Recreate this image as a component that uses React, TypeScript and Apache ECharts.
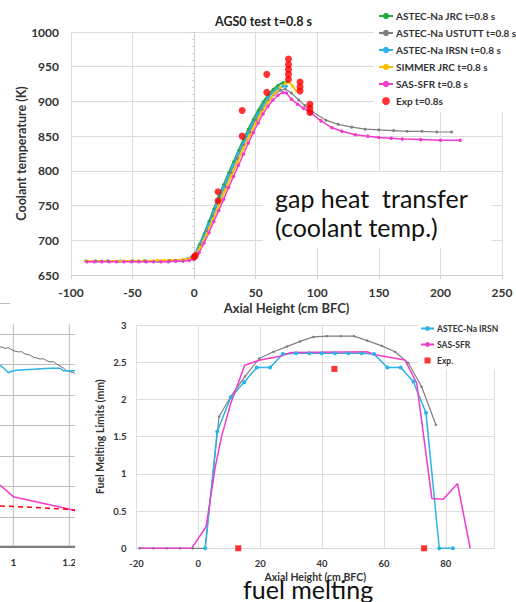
import React, { useEffect, useRef } from 'react';
import * as echarts from 'echarts';

// ---------- Top chart: AGS0 test t=0.8 s (coolant temperature vs axial height) ----------
const topTitle = 'AGS0 test t=0.8 s';
const topXName = 'Axial Height (cm BFC)';
const topYName = 'Coolant temperature (K)';

const jrcName = 'ASTEC-Na JRC t=0.8 s';
const jrcData: [number, number][] = [
  [-88, 670], [-80, 670], [-70, 670], [-60, 670], [-50, 670], [-40, 670], [-30, 670], [-20, 670], [-10, 671],
  [0, 677], [4, 693], [8, 709], [12, 727], [16, 745], [20, 763], [24, 780], [28, 797], [32, 813], [36, 829],
  [40, 845], [44, 860], [48, 874], [52, 887], [56, 899], [60, 909], [64, 917], [68, 923], [72, 927], [75, 928],
];

const ustuttName = 'ASTEC-Na USTUTT t=0.8 s';
const ustuttData: [number, number][] = [
  [-88, 670], [-80, 670], [-70, 670], [-60, 670], [-50, 670], [-40, 670], [-30, 670], [-20, 670], [-10, 671],
  [0, 676], [5, 694], [10, 714], [15, 735], [20, 756], [25, 777], [30, 798], [35, 818], [40, 838], [45, 856],
  [50, 873], [55, 888], [60, 901], [65, 910], [70, 916], [74, 918], [79, 912], [85, 902], [90, 894], [96, 885],
  [107, 873], [117, 867], [128, 863], [139, 860], [150, 859], [162, 858], [173, 857], [185, 857], [197, 856], [209, 856],
];

const irsnName = 'ASTEC-Na IRSN t=0.8 s';
const irsnData: [number, number][] = [
  [-88, 670], [-75, 670], [-60, 670], [-45, 670], [-30, 670], [-15, 670],
  [0, 676], [4, 691], [8, 707], [12, 724], [16, 742], [20, 760], [24, 777], [28, 794], [32, 810], [36, 826],
  [40, 841], [44, 856], [48, 870], [52, 883], [56, 895], [60, 905], [64, 913], [68, 919], [72, 922], [75, 922],
];

const simmerName = 'SIMMER JRC t=0.8 s';
const simmerData: [number, number][] = [
  [-88, 670], [-60, 670], [-30, 671], [-10, 672],
  [0, 675], [5, 690], [10, 708], [15, 729], [20, 750], [25, 771], [30, 792], [35, 812], [40, 832], [45, 851],
  [50, 869], [55, 885], [60, 899], [65, 911], [70, 920], [74, 926], [77, 928], [80, 922], [83, 915],
];

const sasName = 'SAS-SFR t=0.8 s';
const sasData: [number, number][] = [
  [-87, 669], [-81, 669], [-75, 669], [-69, 669], [-63, 669], [-57, 669], [-51, 669], [-45, 669], [-39, 669],
  [-33, 669], [-27, 669], [-21, 669], [-15, 670], [-9, 670], [-4, 671],
  [0, 673], [4, 682], [8, 696], [12, 711], [16, 727], [20, 743], [24, 759], [28, 776], [32, 792], [36, 808],
  [40, 824], [44, 840], [48, 855], [52, 869], [56, 882], [60, 893], [64, 902], [68, 909], [72, 913], [75, 912],
  [79, 903], [84, 896], [89, 890], [95, 883], [103, 872], [112, 862], [120, 857], [131, 852], [141, 850],
  [150, 848], [160, 847], [169, 846], [184, 845], [200, 844], [216, 844],
];

const expName = 'Exp t=0.8s';
const expData: [number, number][] = [
  [0, 676], [1, 678], [19.4, 770], [19.4, 757], [39, 887], [39, 850], [59, 939], [59, 913],
  [76.6, 961], [76.6, 953], [76.6, 946], [76.6, 939], [76.6, 932],
  [86, 928], [86, 921], [86, 915], [94, 896], [94, 890], [94, 884],
];

const annotationLines = ['gap heat  transfer', '(coolant temp.)'];

// ---------- Bottom-right chart: fuel melting limits ----------
const fmXName = 'Axial Height (cm BFC)';
const fmYName = 'Fuel Melting Limits (mm)';

const fmIrsnName = 'ASTEC-Na IRSN';
const fmIrsnData: [number, number][] = [
  [2.2, 0], [6.1, 1.57], [10.5, 2.03], [14.8, 2.23], [18.9, 2.43], [23.2, 2.43], [27.3, 2.61], [31.6, 2.62],
  [35.9, 2.62], [39.9, 2.62], [44.2, 2.62], [48.5, 2.62], [52.8, 2.62], [56.8, 2.61], [61.1, 2.43], [65.4, 2.43],
  [69.5, 2.24], [73.6, 1.82], [77.9, 0], [82.3, 0],
];

const fmSasName = 'SAS-SFR';
const fmSasData: [number, number][] = [
  [-19.5, 0], [-2.2, 0], [2.5, 0.29], [5.5, 1.1], [7.5, 1.5], [10.5, 1.95], [15, 2.46], [20, 2.53], [26.4, 2.58],
  [30, 2.63], [54.5, 2.64], [57.1, 2.6], [66.8, 2.53], [70.6, 2.22], [75.5, 0.67], [79.2, 0.66], [83.8, 0.87], [87.9, 0],
];

const fmUstuttName = 'ASTEC-Na USTUTT';
const fmUstuttData: [number, number][] = [
  [-18.9, 0], [-14.5, 0], [-10.2, 0], [-5.9, 0], [-1.8, 0], [2.2, 0], [6.7, 1.77], [10.5, 2.04], [15.1, 2.31],
  [19.7, 2.55], [24.3, 2.64], [28.6, 2.71], [32.9, 2.78], [37.2, 2.84], [41.5, 2.85], [46, 2.85], [50.3, 2.85],
  [54.6, 2.79], [59.3, 2.72], [63.6, 2.64], [67.9, 2.49], [72.2, 2.17], [76.8, 1.66],
];

const fmExpName = 'Exp.';
const fmExpData: [number, number][] = [[12.9, 0], [44, 2.41], [73, 0]];

const fmCaption = 'fuel melting';

// ---------- Bottom-left chart (cropped by the page edge) ----------
const blXMin = 0.9525;
const blXMax = 1.2204;
const blXTicks = [1, 1.2];
const blYGrid = [0.5, 1, 1.5, 2, 2.5, 3, 3.5, 4];
const blGrayData: [number, number][] = [
  [0.9525, 3.284], [0.9704, 3.257], [0.9821, 3.267], [1.0, 3.218], [1.0179, 3.197], [1.03, 3.202], [1.0418, 3.164],
  [1.0596, 3.148], [1.0714, 3.11], [1.0836, 3.098], [1.0954, 3.082], [1.1071, 3.087], [1.1193, 3.054], [1.1311, 3.033],
  [1.1429, 3.038], [1.155, 3.0], [1.1668, 2.967], [1.1786, 2.934], [1.1907, 2.89], [1.205, 2.869], [1.2204, 2.847],
];
const blBlueData: [number, number][] = [
  [0.9525, 2.984], [0.9704, 2.913], [0.9821, 2.857], [1.0, 2.89], [1.024, 2.902], [1.0714, 2.913], [1.1311, 2.93],
  [1.1668, 2.93], [1.1786, 2.89], [1.2204, 2.89],
];
const blMagentaData: [number, number][] = [[0.9525, 1.016], [1.0, 0.825], [1.2025, 0.618], [1.2204, 0.595]];
const blRedDashData: [number, number][] = [[0.9525, 0.672], [1.0714, 0.65], [1.1907, 0.618], [1.2204, 0.607]];

const FONT = 'Lato, "Liberation Sans", sans-serif';
const C_GREEN = '#27a845';
const C_GRAY = '#7f7f7f';
const C_BLUE = '#2bb3e8';
const C_ORANGE = '#ffbf00';
const C_MAGENTA = '#f03ccc';
const C_RED = '#ff0000';
const LABEL = '#333333';

function line(name: string, data: [number, number][], color: string, width: number, sym: number, axis: number, z: number, extra: any = {}) {
  return {
    type: 'line', name, data, xAxisIndex: axis, yAxisIndex: axis, z,
    symbol: 'circle', symbolSize: sym, showSymbol: sym > 0,
    lineStyle: { color, width }, itemStyle: { color },
    emphasis: { disabled: true }, ...extra,
  };
}

const baseGraphic: any[] = [
  { type: 'rect', z: 2, shape: { x: 75, y: 318, width: 441, height: 284 }, style: { fill: '#ffffff' } },
  { type: 'rect', z: 2, shape: { x: 10, y: 300, width: 65, height: 24 }, style: { fill: '#ffffff' } },
  { type: 'rect', z: 10, shape: { x: 263, y: 172, width: 229, height: 76 }, style: { fill: '#ffffff' } },
  {
    type: 'text', z: 11, x: 275, y: 198,
    style: { text: annotationLines[0], font: `25px ${FONT}`, fill: '#111', verticalAlign: 'middle', align: 'left' },
  },
  {
    type: 'text', z: 11, x: 275, y: 227,
    style: { text: annotationLines[1], font: `25px ${FONT}`, fill: '#111', verticalAlign: 'middle', align: 'left' },
  },
  {
    type: 'text', z: 11, x: 243, y: 589,
    style: { text: fmCaption, font: `25px ${FONT}`, fill: '#111', verticalAlign: 'middle', align: 'left' },
  },
];

function buildOption() {
  const labelStyle = (size: number, margin: number) => ({
    color: LABEL, fontFamily: FONT, fontWeight: 'bold', fontSize: size, margin,
  });
  return {
    animation: false,
    backgroundColor: '#ffffff',
    title: {
      text: topTitle, left: 215, top: 15, padding: 0,
      textStyle: { fontFamily: FONT, fontWeight: 'bold', fontSize: 12.5, color: '#222' },
    },
    legend: [
      {
        orient: 'vertical', left: 374, top: 3, padding: [8, 6, 6, 4],
        itemWidth: 14, itemHeight: 8, itemGap: 7, backgroundColor: '#ffffff', z: 6,
        selectedMode: false,
        data: [jrcName, ustuttName, irsnName, simmerName, sasName, expName],
        textStyle: { fontFamily: FONT, fontWeight: 'bold', fontSize: 10, color: LABEL, padding: [0, 0, 0, -2] },
      },
      {
        orient: 'vertical', left: 418, top: 321, padding: [3, 4, 4, 2],
        itemWidth: 13, itemHeight: 6, itemGap: 7, backgroundColor: '#ffffff', z: 6,
        selectedMode: false,
        data: [fmIrsnName, fmSasName, { name: fmExpName, icon: 'path://M0,0h10v10h-10z' }],
        textStyle: { fontFamily: FONT, fontWeight: 'bold', fontSize: 8.5, color: LABEL, padding: [0, 0, 0, -2] },
      },
    ],
    grid: [
      { left: 71, right: 14, top: 32, bottom: 327, outerBoundsMode: 'none', containLabel: false },
      { left: 0, right: 441, top: 303, bottom: 55, outerBoundsMode: 'none', containLabel: false },
      { left: 136.5, right: 22, top: 325, bottom: 53.7, outerBoundsMode: 'none', containLabel: false },
    ],
    xAxis: [
      {
        type: 'value', gridIndex: 0, min: -100, max: 250, interval: 50,
        name: topXName, nameLocation: 'middle', nameGap: 26, nameMoveOverlap: false,
        nameTextStyle: { fontFamily: FONT, fontWeight: 'bold', fontSize: 13, color: LABEL },
        axisLine: { show: true, lineStyle: { color: '#d0d0d0' } },
        axisTick: { show: true, length: 4, lineStyle: { color: '#d0d0d0' } },
        axisLabel: labelStyle(12, 11),
        splitLine: { show: true, lineStyle: { color: '#dcdcdc', width: 1 } },
      },
      {
        type: 'value', gridIndex: 1, min: blXMin, max: blXMax,
        axisLine: { show: true, onZero: false, lineStyle: { color: '#7f7f7f', width: 1 } },
        axisTick: { show: false, customValues: blXTicks },
        axisLabel: { ...labelStyle(10, 10), customValues: blXTicks, formatter: (v: number) => String(v) },
        splitLine: { show: false },
      },
      {
        type: 'value', gridIndex: 2, min: -20, max: 95.6, interval: 20, z: 3,
        name: fmXName, nameLocation: 'middle', nameGap: 23, nameMoveOverlap: false,
        nameTextStyle: { fontFamily: FONT, fontWeight: 'bold', fontSize: 10.5, color: LABEL },
        axisLine: { show: true, onZero: false, lineStyle: { color: '#d9d9d9' } },
        axisTick: { show: false },
        axisLabel: {
          ...labelStyle(9.5, 10), showMaxLabel: false,
          formatter: (v: number) => (Math.abs(v / 20 - Math.round(v / 20)) < 1e-6 ? String(Math.round(v)) : ''),
        },
        splitLine: { show: true, lineStyle: { color: '#dedede', width: 1 } },
      },
    ],
    yAxis: [
      {
        type: 'value', gridIndex: 0, min: 650, max: 1000, interval: 50,
        name: topYName, nameLocation: 'middle', nameGap: 43, nameMoveOverlap: false,
        nameTextStyle: { fontFamily: FONT, fontWeight: 'bold', fontSize: 12.5, color: LABEL },
        axisLine: { show: true, lineStyle: { color: '#d0d0d0' } },
        axisTick: { show: true, length: 4, lineStyle: { color: '#d0d0d0' } },
        minorTick: { show: true, splitNumber: 5, length: 2, lineStyle: { color: '#d0d0d0' } },
        axisLabel: { ...labelStyle(12, 12), formatter: (v: number) => String(v) },
        splitLine: { show: true, lineStyle: { color: '#dcdcdc', width: 1 } },
      },
      {
        type: 'value', gridIndex: 1, min: 0, max: 4, interval: 0.5,
        axisLine: { show: false, onZero: false }, axisTick: { show: false },
        axisLabel: { show: false },
        splitLine: { show: false },
      },
      {
        type: 'value', gridIndex: 2, min: 0, max: 3, interval: 0.5, z: 3,
        name: fmYName, nameLocation: 'middle', nameGap: 31, nameMoveOverlap: false,
        nameTextStyle: { fontFamily: FONT, fontWeight: 'bold', fontSize: 10.5, color: LABEL },
        axisLine: { show: false }, axisTick: { show: false },
        axisLabel: labelStyle(9.5, 10),
        splitLine: { show: true, lineStyle: { color: '#dedede', width: 1 } },
      },
    ],
    series: [
      // top chart
      line(jrcName, jrcData, C_GREEN, 2, 3, 0, 2),
      line(ustuttName, ustuttData, C_GRAY, 1.2, 3, 0, 2),
      line(irsnName, irsnData, C_BLUE, 2, 3, 0, 2),
      line(simmerName, simmerData, C_ORANGE, 2, 3, 0, 2),
      line(sasName, sasData, C_MAGENTA, 1.5, 3.5, 0, 2),
      {
        type: 'scatter', name: expName, data: expData, xAxisIndex: 0, yAxisIndex: 0, z: 3,
        symbol: 'circle', symbolSize: 7, itemStyle: { color: C_RED }, emphasis: { disabled: true },
      },
      // bottom-left: vertical grid lines through the axis scales
      ...blXTicks.map((v) =>
        line('bl-vgrid-' + v, [[v, 0], [v, 4]], '#bdbdbd', 1, 0, 1, 0.5, { silent: true, clip: false }),
      ),
      line('bl-gray', blGrayData, '#6f6f6f', 1, 0, 1, 1),
      line('bl-blue', blBlueData, C_BLUE, 1.5, 0, 1, 1),
      line('bl-magenta', blMagentaData, C_MAGENTA, 1.5, 0, 1, 1),
      line('bl-red', blRedDashData, C_RED, 1.5, 0, 1, 1, { lineStyle: { color: C_RED, width: 1.5, type: [5, 4] } }),
      // bottom-right
      line(fmUstuttName, fmUstuttData, C_GRAY, 1.2, 2.5, 2, 4),
      line(fmIrsnName, fmIrsnData, C_BLUE, 1.5, 4, 2, 4),
      line(fmSasName, fmSasData, C_MAGENTA, 1.5, 0, 2, 4),
      {
        type: 'scatter', name: fmExpName, data: fmExpData, xAxisIndex: 2, yAxisIndex: 2, z: 5,
        symbol: 'rect', symbolSize: 6, itemStyle: { color: C_RED }, emphasis: { disabled: true },
      },
    ],
    graphic: baseGraphic,
  };
}

export default function App() {
  const ref = useRef<HTMLDivElement>(null);
  useEffect(() => {
    if (!ref.current) return;
    const chart = echarts.init(ref.current, null, { renderer: 'svg' });
    chart.setOption(buildOption() as any);
    // horizontal grid lines and base line of the cropped chart, placed through its axis scales
    const extra: any[] = [];
    [0, ...blYGrid].forEach((v) => {
      const a = chart.convertToPixel({ gridIndex: 1 } as any, [blXMin, v]) as number[];
      const b = chart.convertToPixel({ gridIndex: 1 } as any, [blXMax, v]) as number[];
      if (a && b && isFinite(a[0]) && isFinite(a[1])) {
        const y = v === 0 ? Math.round(a[1]) - 0.5 : Math.round(a[1]) + 0.5;
        extra.push({
          type: 'line', z: v === 0 ? 12 : 0, silent: true,
          shape: { x1: Math.max(0, a[0]), y1: y, x2: b[0], y2: y },
          style: { stroke: v === 0 ? '#7a7a7a' : '#bdbdbd', lineWidth: v === 0 ? 1.5 : 1 },
        });
      }
    });
    if (extra.length) chart.setOption({ graphic: [...baseGraphic, ...extra] } as any);
    return () => chart.dispose();
  }, []);
  return (
    <div
      ref={ref}
      style={{ position: 'absolute', left: 0, top: 0, width: 516, height: 602, background: '#ffffff' }}
    />
  );
}
